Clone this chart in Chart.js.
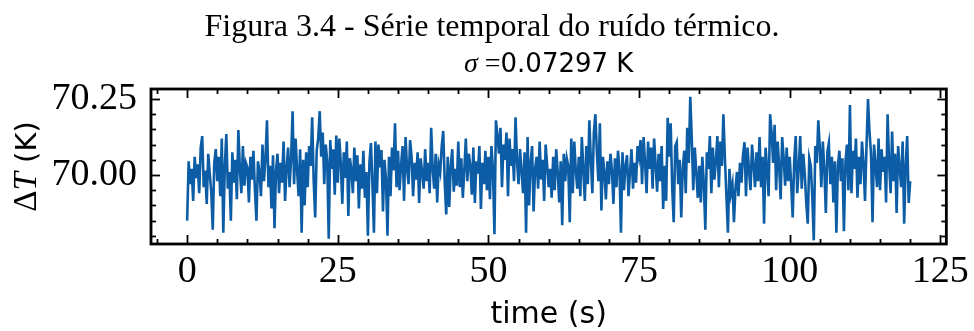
<!DOCTYPE html>
<html>
<head>
<meta charset="utf-8">
<script src="https://cdn.jsdelivr.net/npm/chart.js@4.4.0/dist/chart.umd.min.js"></script>
<style>
  html, body { margin: 0; padding: 0; background: #fff; }
  canvas { display: block; }
</style>
</head>
<body>
<canvas id="noiseChart" width="974" height="331"></canvas>
<script>
// Thermal noise record: one sample every 0.25 s, 0 .. 120 s.
// Stored as deviation from the 70 K baseline, in mK.
const BASELINE_K = 70.0;
const SAMPLE_STEP_S = 0.25;
const deltaT_mK = [
  -150, 45, -30, 20, -85, 60, -10, 35, -60, 90, 128, -40, 15, -95, 70, 5, -55, -180, 40, 85,
  -20, 60, -70, 120, -190, 30, 135, -45, 10, -150, 75, -25, 50, -80, 148, 20, -60, 95, -35, 40,
  25, -90, 60, -15, 80, -50, -150, 45, 10, -70, 100, -20, 55, 180, -40, 30, -110, 65, -175, 15,
  70, -60, 40, -25, 110, -85, 20, 90, -40, 55, 210, -30, 120, 15, -70, 85, -190, 50, -100, 75,
  -40, 95, 30, 190, -20, -140, 80, 120, 210, 60, 140, -30, 100, 45, -210, 115, 20, 85, -65, 130,
  -25, 120, 40, -95, 75, -10, 110, -135, 55, 20, -60, 90, -20, 65, -110, 35, -45, 80, -75, 10,
  -200, 40, 105, -30, -190, 110, -60, 100, 25, 82, -120, 50, -15, -200, 60, -70, 90, 15, 170, -40,
  80, -50, 30, 95, -85, 125, 20, -30, 115, 60, -70, 40, -15, 75, -92, 55, 10, -45, 85, -20,
  40, -60, 155, 20, -45, 70, -90, 35, 10, 95, 145, -25, -130, 60, -105, 30, 85, -55, 20, -35,
  110, -40, 55, -75, 15, 120, -20, 70, 30, -65, 90, -92, 45, 5, 95, -112, 40, -30, 80, -50,
  60, -80, 95, 20, -195, 180, 130, 70, 155, -40, 100, 50, 140, -70, 120, 30, 85, -20, 190, 45,
  -30, 85, 10, -60, 75, -190, 125, -100, 40, 95, -120, 20, 60, -45, 110, -15, 50, -85, 100, 30,
  -40, 20, -75, 60, -50, 85, 10, -90, 45, -165, 70, -20, 55, 30, -155, 120, -60, 110, 15, -45,
  60, -70, 125, 20, -85, 95, -30, 180, 50, -60, 140, 200, 75, -20, 170, -117, 60, 10, -80, 45,
  -30, 70, 15, -95, 55, -40, 80, 20, -190, 75, -50, 30, 65, -70, 10, 85, -45, 40, -25, 95,
  60, 115, -30, 125, 40, -60, 110, 20, 90, -45, 120, 35, -55, 70, -20, 95, -112, 30, -85, 188,
  60, 170, -40, -155, 95, 108, -30, 50, -140, 20, 80, -60, 155, 40, 257, 120, -50, 90, 10, -75,
  30, -90, 60, -30, -180, 75, 20, 128, -60, 90, -15, 45, 128, -40, 110, 30, 200, 55, -70, -190,
  20, -60, -30, -155, -45, 10, -70, 40, -25, 65, 108, -70, 90, 15, -50, 100, 35, -40, 75, -20,
  125, -40, 60, -160, 90, 20, -70, 200, 140, 40, 165, -50, 110, 30, -80, 125, 55, -35, 90, -20,
  60, -30, -140, 45, 128, -60, 20, 128, -45, 70, 5, -90, -160, 55, 30, -70, -215, 95, 40, 180,
  90, -40, 110, 20, -125, 75, 105, -30, 60, -90, 45, -190, 30, 80, -20, 55, -185, 40, 100, -50,
  230, -60, 80, 20, 120, -75, 60, -30, 110, 40, -85, 95, 250, 140, 70, -155, 100, 30, -40, 120,
  -50, 85, 10, 60, -90, 200, 40, -60, 143, -20, 70, -125, 95, 25, -40, 110, -160, 30, 128, -92,
  -20
];
const xTicks = [0, 25, 50, 75, 100, 125];
const yTicks = [70.00, 70.25];
const sigmaK = 0.07297;

const points = deltaT_mK.map((v, i) => ({ x: i * SAMPLE_STEP_S, y: BASELINE_K + v / 1000 }));

const SERIF = '"Liberation Serif", "Times New Roman", serif';
const SANS = '"DejaVu Sans", sans-serif';

// frame on all four sides with inward major/minor ticks
const frameTicks = {
  id: 'frameTicks',
  afterDatasetsDraw(chart) {
    const { ctx, chartArea: a, scales: { x, y } } = chart;
    ctx.save();
    ctx.strokeStyle = '#000';
    ctx.lineWidth = 1.8;
    const line = (x1, y1, x2, y2) => { ctx.beginPath(); ctx.moveTo(x1, y1); ctx.lineTo(x2, y2); ctx.stroke(); };
    for (let v = -5; v <= 125; v += 5) {
      const px = Math.round(x.getPixelForValue(v)) + 0.5;
      if (px < a.left || px > a.right) continue;
      const len = v % 25 === 0 ? 9 : 5;
      line(px, a.bottom, px, a.bottom - len);
      line(px, a.top, px, a.top + len);
    }
    for (let v = 69.80; v <= 70.28; v += 0.05) {
      const py = Math.round(y.getPixelForValue(v)) + 0.5;
      if (py < a.top || py > a.bottom) continue;
      const major = Math.abs(v - 70.0) < 1e-6 || Math.abs(v - 70.25) < 1e-6;
      const len = major ? 9 : 5;
      line(a.left, py, a.left + len, py);
      line(a.right, py, a.right - len, py);
    }
    ctx.lineWidth = 2.8;
    ctx.strokeRect(a.left, a.top, a.right - a.left, a.bottom - a.top);
    ctx.restore();
  }
};

// draws a row of differently styled text pieces, centred on cx
function drawPieces(ctx, pieces, cx, baseline) {
  let total = 0;
  pieces.forEach(p => { ctx.font = p.font; p.w = ctx.measureText(p.text).width; total += p.w; });
  let cur = cx - total / 2;
  pieces.forEach(p => { ctx.font = p.font; ctx.fillText(p.text, cur, baseline); cur += p.w; });
}

const labels = {
  id: 'labels',
  afterDraw(chart) {
    const { ctx, chartArea: a } = chart;
    const cx = (a.left + a.right) / 2;
    ctx.save();
    ctx.fillStyle = '#000';
    ctx.textBaseline = 'alphabetic';
    ctx.textAlign = 'left';

    drawPieces(ctx, [{ text: 'Figura 3.4 - Série temporal do ruído térmico.', font: '32px ' + SERIF }], 492, 36);

    drawPieces(ctx, [
      { text: 'σ', font: 'italic 28px ' + SERIF },
      { text: ' =', font: '28px ' + SERIF },
      { text: sigmaK.toFixed(5) + ' K', font: '26px ' + SANS }
    ], cx, 72);

    drawPieces(ctx, [{ text: 'time (s)', font: '30px ' + SANS }], cx, 323);

    ctx.translate(36, (a.top + a.bottom) / 2);
    ctx.rotate(-Math.PI / 2);
    drawPieces(ctx, [
      { text: 'Δ', font: '33px ' + SERIF },
      { text: 'T', font: 'italic 33px ' + SERIF },
      { text: ' (K)', font: '29px ' + SANS }
    ], 0, 0);
    ctx.restore();
  }
};

new Chart(document.getElementById('noiseChart'), {
  type: 'line',
  data: {
    datasets: [{
      data: points,
      borderColor: '#0C5DA5',
      borderWidth: 2.6,
      pointRadius: 0,
      tension: 0,
      fill: false
    }]
  },
  options: {
    responsive: false,
    animation: false,
    devicePixelRatio: 1,
    layout: { padding: { left: 0, right: 24, top: 89, bottom: 0 } },
    plugins: { legend: { display: false }, tooltip: { enabled: false } },
    scales: {
      x: {
        type: 'linear',
        min: -6,
        max: 126,
        grid: { display: false, drawTicks: false },
        border: { display: false },
        afterBuildTicks: s => { s.ticks = xTicks.map(v => ({ value: v })); },
        afterFit: s => { s.height = 87; },
        ticks: {
          color: '#000',
          padding: 5,
          maxRotation: 0,
          font: { family: SERIF, size: 38 },
          callback: v => String(v)
        }
      },
      y: {
        type: 'linear',
        min: 69.773,
        max: 70.283,
        grid: { display: false, drawTicks: false },
        border: { display: false },
        afterBuildTicks: s => { s.ticks = yTicks.map(v => ({ value: v })); },
        afterFit: s => { s.width = 151; },
        ticks: {
          color: '#000',
          padding: 14,
          font: { family: SERIF, size: 38 },
          callback: v => v.toFixed(2)
        }
      }
    }
  },
  plugins: [frameTicks, labels]
});
</script>
</body>
</html>
